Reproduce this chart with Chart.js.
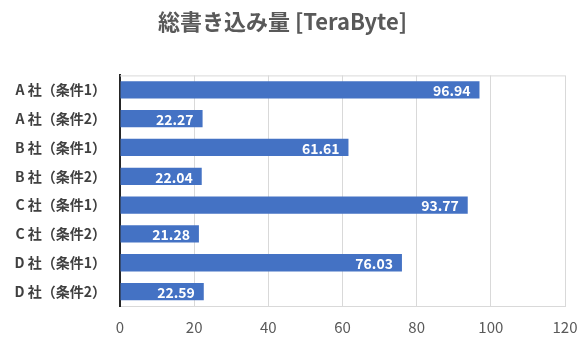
<!DOCTYPE html>
<html>
<head>
<meta charset="utf-8">
<script src="https://cdn.jsdelivr.net/npm/chart.js@4/dist/chart.umd.min.js"></script>
<style>
  html, body { margin: 0; padding: 0; background: #fff; }
  #wrap { width: 581px; height: 342px; }
</style>
</head>
<body>
<div id="wrap"><canvas id="chart"></canvas></div>
<script>
const categories = [
  'A 社（条件1）', 'A 社（条件2）',
  'B 社（条件1）', 'B 社（条件2）',
  'C 社（条件1）', 'C 社（条件2）',
  'D 社（条件1）', 'D 社（条件2）'
];
const totalWrites = [96.94, 22.27, 61.61, 22.04, 93.77, 21.28, 76.03, 22.59];
const xTicks = [0, 20, 40, 60, 80, 100, 120];

const FONT = "'Noto Sans CJK JP', 'Noto Sans', sans-serif";

// value labels drawn inside the end of each bar
const barLabels = {
  id: 'barLabels',
  afterDatasetsDraw(chart) {
    const ctx = chart.ctx;
    const meta = chart.getDatasetMeta(0);
    ctx.save();
    ctx.fillStyle = '#ffffff';
    ctx.font = 'bold 14px ' + FONT;
    ctx.textAlign = 'right';
    ctx.textBaseline = 'middle';
    meta.data.forEach((bar, i) => {
      ctx.fillText(totalWrites[i].toFixed(2), bar.x - 9, bar.y + 1);
    });
    ctx.restore();
  }
};

// top border of the plot area
const frameTop = {
  id: 'frameTop',
  beforeDatasetsDraw(chart) {
    const { ctx, chartArea } = chart;
    ctx.save();
    ctx.strokeStyle = '#d9d9d9';
    ctx.lineWidth = 1;
    ctx.beginPath();
    ctx.moveTo(chartArea.left, chartArea.top + 0.5);
    ctx.lineTo(chartArea.right, chartArea.top + 0.5);
    ctx.stroke();
    ctx.restore();
  }
};

new Chart(document.getElementById('chart'), {
  type: 'bar',
  data: {
    labels: categories,
    datasets: [{
      data: totalWrites,
      backgroundColor: '#4472c4',
      borderWidth: 0,
      categoryPercentage: 0.6,
      barPercentage: 1.0
    }]
  },
  options: {
    indexAxis: 'y',
    responsive: true,
    maintainAspectRatio: false,
    animation: false,
    layout: { padding: { left: 0, right: 16, top: 0, bottom: 0 } },
    plugins: {
      legend: { display: false },
      tooltip: { enabled: false },
      title: {
        display: true,
        text: '総書き込み量 [TeraByte]',
        color: '#595959',
        font: { family: FONT, size: 22, weight: 'bold' },
        padding: { top: 8, bottom: 41 }
      }
    },
    scales: {
      x: {
        min: 0,
        max: 120,
        afterBuildTicks(scale) {
          scale.ticks = xTicks.map(v => ({ value: v }));
        },
        afterFit(scale) {
          scale.height = 36;
          scale.paddingLeft = 0;
          scale.paddingRight = 0;
        },
        grid: { color: '#d9d9d9', drawTicks: false },
        border: { display: true, color: '#d9d9d9' },
        ticks: {
          color: '#595959',
          padding: 12,
          font: { family: FONT, size: 15 }
        }
      },
      y: {
        afterFit(scale) {
          scale.width = 120;
          scale.paddingTop = 0;
          scale.paddingBottom = 0;
        },
        grid: { display: false, drawTicks: false },
        border: { display: true, color: '#262626', width: 2 },
        ticks: {
          color: '#404040',
          padding: 14,
          font: { family: FONT, size: 14, weight: 'bold' }
        }
      }
    }
  },
  plugins: [barLabels, frameTop]
});
</script>
</body>
</html>
